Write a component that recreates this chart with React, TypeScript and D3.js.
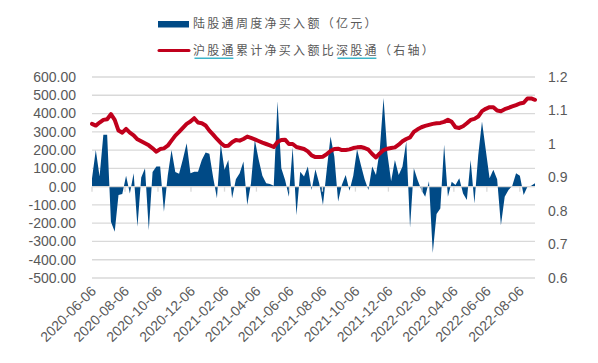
import React, { useEffect, useRef } from 'react';
import * as d3 from 'd3';

// weekly data, first week 2020-06-06
const startDate = '2020-06-06';
const endDate = '2022-09-03';

const xTickLabels = [
  '2020-06-06', '2020-08-06', '2020-10-06', '2020-12-06', '2021-02-06', '2021-04-06', '2021-06-06',
  '2021-08-06', '2021-10-06', '2021-12-06', '2022-02-06', '2022-04-06', '2022-06-06', '2022-08-06',
];
const leftTicks = [600, 500, 400, 300, 200, 100, 0, -100, -200, -300, -400, -500];
const rightTicks = [1.2, 1.1, 1, 0.9, 0.8, 0.7, 0.6];

// 陆股通周度净买入额（亿元）
const weeklyNetBuy = [
  45, 200, 55, 284, 284, -192, -247, -46, -40, 59,
  -37, 73, -220, 50, 100, -238, 80, 110, 110, -137,
  60, 201, 80, 70, 150, 238, 73, 82, 82, 146,
  187, 180, 50, -64, 235, 92, 146, -64, 40, 73,
  137, -100, 20, 256, 150, 60, 18, 15, 5, 467,
  100, 37, -55, 215, -156, 82, 55, 110, -18, 95,
  18, -100, 92, 275, 165, -82, 10, 64, -22, 60,
  205, 120, 40, -18, 110, 64, 200, 485, 183, 30,
  146, 64, 110, 247, -225, 100, 37, -18, -55, 30,
  -363, -150, -120, 229, -55, 27, 9, 46, -37, -73,
  146, -92, 170, 357, 200, 46, 92, 40, -211, -55,
  -18, 5, 73, 59, -46, 0, 5, 18,
];

// 沪股通累计净买入额比深股通（右轴）
const shSzRatio = [
  1.060, 1.055, 1.064, 1.072, 1.074, 1.089, 1.072, 1.040, 1.034, 1.045,
  1.034, 1.026, 1.014, 1.008, 1.002, 0.996, 0.987, 0.977, 0.985, 0.987,
  0.995, 1.010, 1.025, 1.036, 1.048, 1.060, 1.067, 1.077, 1.064, 1.062,
  1.055, 1.040, 1.028, 1.015, 1.003, 0.994, 0.995, 1.005, 1.012, 1.010,
  1.015, 1.022, 1.018, 1.014, 1.009, 1.004, 1.000, 0.996, 0.991, 1.006,
  1.012, 1.013, 1.000, 1.000, 0.991, 0.988, 0.985, 0.978, 0.966, 0.961,
  0.961, 0.962, 0.970, 0.979, 0.985, 0.986, 0.982, 0.982, 0.984, 0.988,
  0.990, 0.991, 0.988, 0.983, 0.970, 0.960, 0.972, 0.982, 0.986, 0.988,
  0.990, 0.998, 1.008, 1.015, 1.020, 1.036, 1.044, 1.050, 1.054, 1.057,
  1.060, 1.062, 1.063, 1.066, 1.072, 1.066, 1.050, 1.048, 1.053, 1.062,
  1.072, 1.075, 1.082, 1.098, 1.105, 1.110, 1.110, 1.100, 1.098, 1.104,
  1.108, 1.112, 1.116, 1.121, 1.123, 1.136, 1.136, 1.132,
];

const legendLabels = ['陆股通周度净买入额（亿元）', '沪股通累计净买入额比深股通（右轴）'];

const BLUE = '#004a86';
const RED = '#c0001c';
const GREY = '#595959';
const GRID = '#d9d9d9';

const App = () => {
  const ref = useRef<SVGSVGElement | null>(null);

  useEffect(() => {
    if (!ref.current) return;
    const svg = d3.select(ref.current);
    svg.selectAll('*').remove();

    const parse = d3.timeParse('%Y-%m-%d');
    const t0 = parse(startDate) as Date;
    const dates = weeklyNetBuy.map((_, i) => d3.timeDay.offset(t0, 7 * i));

    const x = d3.scaleTime().domain([t0, parse(endDate) as Date]).range([92, 535]);
    const yL = d3.scaleLinear().domain([-500, 600]).range([278, 77]);
    const yR = d3.scaleLinear().domain([0.6, 1.2]).range([278, 77]);

    svg.append('rect').attr('width', 598).attr('height', 363).attr('fill', '#fff');

    // gridlines
    svg.append('g')
      .selectAll('line')
      .data(leftTicks)
      .enter()
      .append('line')
      .attr('x1', 92)
      .attr('x2', 535)
      .attr('y1', d => yL(d))
      .attr('y2', d => yL(d))
      .attr('stroke', GRID)
      .attr('stroke-width', 1.3);

    // area (weekly net buy)
    const area = d3.area<number>()
      .x((_, i) => x(dates[i]))
      .y0(yL(0))
      .y1(d => yL(d));
    svg.append('path').datum(weeklyNetBuy).attr('d', area).attr('fill', BLUE);

    // zero axis line + ticks on top
    svg.append('line')
      .attr('x1', 92).attr('x2', 535)
      .attr('y1', yL(0)).attr('y2', yL(0))
      .attr('stroke', GRID).attr('stroke-width', 1.3);

    const tickDates = xTickLabels.map(s => parse(s) as Date);
    svg.append('g')
      .selectAll('line')
      .data(tickDates)
      .enter()
      .append('line')
      .attr('x1', d => x(d)).attr('x2', d => x(d))
      .attr('y1', yL(0)).attr('y2', yL(0) + 5)
      .attr('stroke', GRID).attr('stroke-width', 1.3);

    // ratio line
    const line = d3.line<number>()
      .x((_, i) => x(dates[i]))
      .y(d => yR(d));
    svg.append('path')
      .datum(shSzRatio)
      .attr('d', line)
      .attr('fill', 'none')
      .attr('stroke', RED)
      .attr('stroke-width', 4)
      .attr('stroke-linejoin', 'round')
      .attr('stroke-linecap', 'round');

    const axisFont = "'Liberation Sans', Arial, sans-serif";

    // left axis labels
    svg.append('g')
      .selectAll('text')
      .data(leftTicks)
      .enter()
      .append('text')
      .attr('x', 76)
      .attr('y', d => yL(d))
      .attr('dy', '0.35em')
      .attr('text-anchor', 'end')
      .style('font-family', axisFont)
      .style('font-size', '14px')
      .attr('fill', GREY)
      .text(d => d.toFixed(2));

    // right axis labels
    svg.append('g')
      .selectAll('text')
      .data(rightTicks)
      .enter()
      .append('text')
      .attr('x', 548)
      .attr('y', d => yR(d))
      .attr('dy', '0.35em')
      .style('font-family', axisFont)
      .style('font-size', '14px')
      .attr('fill', GREY)
      .text(d => String(d));

    // x axis labels, rotated
    svg.append('g')
      .selectAll('text')
      .data(tickDates)
      .enter()
      .append('text')
      .attr('transform', d => `translate(${x(d) + 5},${292}) rotate(-45)`)
      .attr('text-anchor', 'end')
      .style('font-family', axisFont)
      .style('font-size', '14px')
      .attr('fill', GREY)
      .text((_, i) => xTickLabels[i]);

    // legend
    const cjk = "'Noto Sans CJK SC', sans-serif";
    const advance = 14.3;
    svg.append('rect').attr('x', 158).attr('y', 21).attr('width', 31).attr('height', 6.5).attr('fill', BLUE);
    svg.append('line')
      .attr('x1', 159).attr('x2', 189).attr('y1', 50.5).attr('y2', 50.5)
      .attr('stroke', RED).attr('stroke-width', 3).attr('stroke-linecap', 'round');

    svg.selectAll('.legend-text')
      .data(legendLabels)
      .enter()
      .append('text')
      .attr('class', 'legend-text')
      .attr('x', 193)
      .attr('y', (_, i) => (i === 0 ? 24 : 50.5))
      .attr('dy', '0.36em')
      .style('font-family', cjk)
      .style('font-size', '12px')
      .style('letter-spacing', `${advance - 12}px`)
      .attr('fill', GREY)
      .text(d => d);

    // underlines under 沪股通 / 深股通
    [[0, 3], [10, 13]].forEach(([a, b]) => {
      svg.append('line')
        .attr('x1', 193 + a * advance + 1.5)
        .attr('x2', 193 + b * advance - 2.5)
        .attr('y1', 58.3).attr('y2', 58.3)
        .attr('stroke', '#3cb4c8').attr('stroke-width', 1.5);
    });
  }, []);

  return (
    <svg
      ref={ref}
      width={598}
      height={363}
      style={{ position: 'absolute', left: 0, top: 0, background: '#fff' }}
    />
  );
};

export default App;
